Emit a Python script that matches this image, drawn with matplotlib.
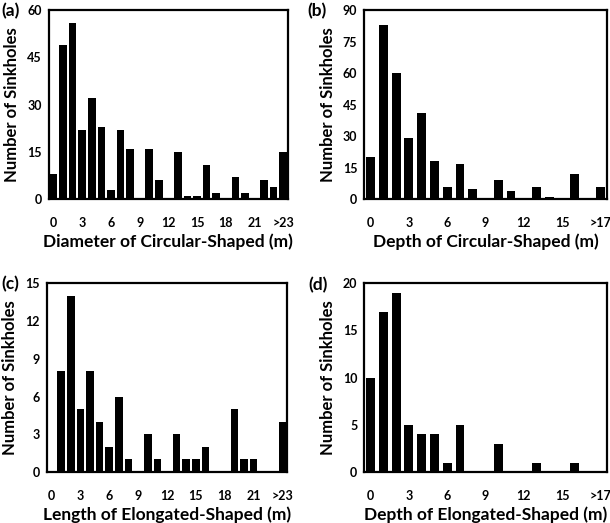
import matplotlib
matplotlib.use('Agg')
import matplotlib.pyplot as plt

plt.rcParams['font.family'] = ['Lato', 'DejaVu Sans']
plt.rcParams['font.weight'] = 'bold'

# (a) diameter of circular-shaped sinkholes, bins 0..23 and >23
diam_circ = [8, 49, 56, 22, 32, 23, 3, 22, 16, 0, 16, 6, 0, 15, 1, 1, 11, 2, 0, 7, 2, 0, 6, 4, 15]
# (b) depth of circular-shaped sinkholes, bins 0..17 and >17
depth_circ = [20, 83, 60, 29, 41, 18, 6, 17, 5, 0, 9, 4, 0, 6, 1, 0, 12, 0, 6]
# (c) length of elongated-shaped sinkholes
len_elong = [0, 8, 14, 5, 8, 4, 2, 6, 1, 0, 3, 1, 0, 3, 1, 1, 2, 0, 0, 5, 1, 1, 0, 0, 4]
# (d) depth of elongated-shaped sinkholes
depth_elong = [10, 17, 19, 5, 4, 4, 1, 5, 0, 0, 3, 0, 0, 1, 0, 0, 1, 0, 0]

xlab_long = ['0', '3', '6', '9', '12', '15', '18', '21', '>23']
xpos_long = [0, 3, 6, 9, 12, 15, 18, 21, 24]
xlab_short = ['0', '3', '6', '9', '12', '15', '>17']
xpos_short = [0, 3, 6, 9, 12, 15, 18]

# tag, data, xlabel, yticks, xtick pos, xtick labels, bar width, axes box (px), tag pos (px)
panels = [
    ('(a)', diam_circ, 'Diameter of Circular-Shaped (m)', [0, 15, 30, 45, 60], xpos_long, xlab_long, 0.8,
     [48.7, 10, 288, 199.3], (1, 11)),
    ('(b)', depth_circ, 'Depth of Circular-Shaped (m)', [0, 15, 30, 45, 60, 75, 90], xpos_short, xlab_short, 0.7,
     [364.3, 10, 606.7, 199.3], (307, 11)),
    ('(c)', len_elong, 'Length of Elongated-Shaped (m)', [0, 3, 6, 9, 12, 15], xpos_long, xlab_long, 0.8,
     [46.7, 283.3, 287.3, 472], (1, 284)),
    ('(d)', depth_elong, 'Depth of Elongated-Shaped (m)', [0, 5, 10, 15, 20], xpos_short, xlab_short, 0.7,
     [364.3, 283.3, 606.7, 472], (308, 285)),
]

W, H = 610, 523
fig = plt.figure(figsize=(W / 100, H / 100), dpi=100)

for tag, vals, xlabel, yt, xp, xl, bw, box, tpos in panels:
    l, t, r, b = box
    ax = fig.add_axes([l / W, 1 - b / H, (r - l) / W, (b - t) / H])
    n = len(vals)
    ax.bar(range(n), vals, width=bw, color='black')
    ax.set_xlim(-0.5, n - 0.5)
    ax.set_ylim(0, yt[-1])
    ax.set_yticks(yt)
    ax.set_xticks(xp)
    ax.set_xticklabels(xl)
    ax.tick_params(length=0, labelsize=9, pad=5)
    ax.tick_params(axis='x', pad=13)
    for s in ax.spines.values():
        s.set_linewidth(1.6)
    ax.set_xlabel(xlabel, fontsize=12.5, fontweight='bold', labelpad=3)
    ax.set_ylabel('Number of Sinkholes', fontsize=12, fontweight='bold', labelpad=5)
    fig.text(tpos[0] / W, 1 - tpos[1] / H, tag, fontsize=12.5, fontweight='bold',
             ha='left', va='center')

fig.savefig('out.png', dpi=100)
